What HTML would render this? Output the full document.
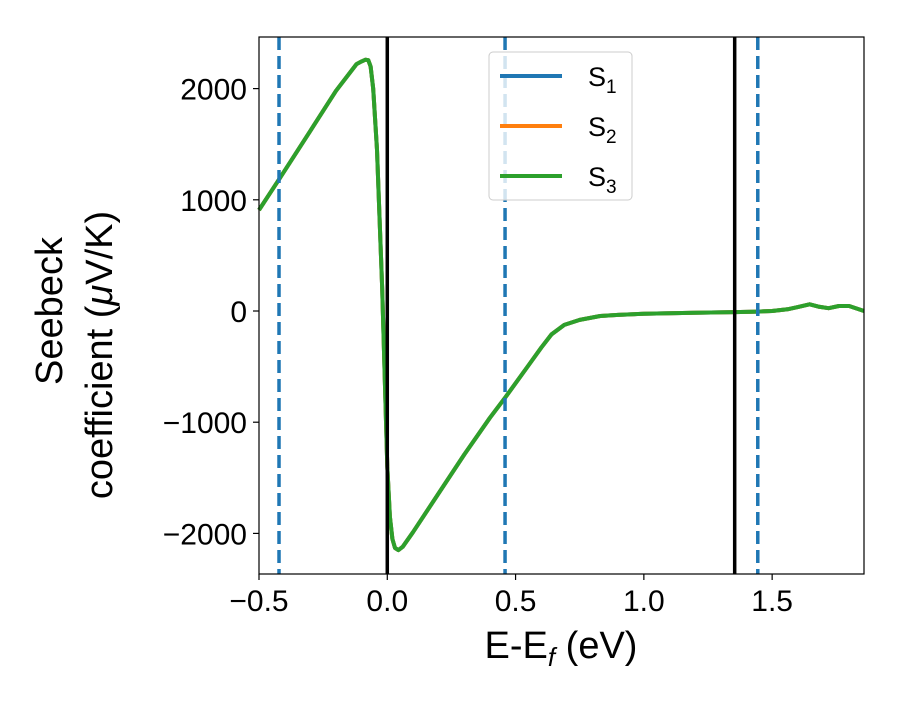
<!DOCTYPE html>
<html><head><meta charset="utf-8"><style>
body{margin:0;background:#fff}
svg{font-family:"Liberation Sans",sans-serif}
</style></head><body>
<svg id="chart" width="900" height="700" xmlns="http://www.w3.org/2000/svg">
<rect width="900" height="700" fill="#fff"/>
<g id="marks"></g>
<rect x="259" y="37" width="605" height="537" fill="none" stroke="#000" stroke-width="1.2"/>
<g id="axes"></g>
<g>
<rect x="489" y="52" width="143" height="148" rx="4" fill="#fff" fill-opacity="0.8" stroke="#ccc"/>
<g><line x1="500" y1="76" x2="562" y2="76" stroke="#1f77b4" stroke-width="4"/><text x="588" y="86" font-size="27">S<tspan font-size="19" dy="7">1</tspan></text></g>
<g><line x1="500" y1="126" x2="562" y2="126" stroke="#ff7f0e" stroke-width="4"/><text x="588" y="136" font-size="27">S<tspan font-size="19" dy="7">2</tspan></text></g>
<g><line x1="500" y1="176" x2="562" y2="176" stroke="#2ca02c" stroke-width="4"/><text x="588" y="186" font-size="27">S<tspan font-size="19" dy="7">3</tspan></text></g>
</g>
<text x="561" y="658" font-size="38" text-anchor="middle">E-E<tspan font-size="26" dy="8" font-style="italic">f</tspan><tspan dy="-8"> (eV)</tspan></text>
<g>
<text transform="translate(62,311) rotate(-90)" font-size="38" text-anchor="middle">Seebeck</text>
<text transform="translate(112,355) rotate(-90)" font-size="38" text-anchor="middle">coefficient  (<tspan font-style="italic">μ</tspan>V/K)</text>
</g>
</svg>
<script>
const energy=[-0.5,-0.42,-0.3,-0.2,-0.12,-0.1,-0.085,-0.074,-0.065,-0.055,-0.04,-0.02,0.0,0.01,0.02,0.03,0.043,0.06,0.1,0.2,0.3,0.4,0.459,0.55,0.6,0.64,0.69,0.75,0.83,0.9,1.0,1.1,1.2,1.354,1.444,1.5,1.56,1.6,1.646,1.68,1.72,1.76,1.8,1.858];
const seebeck=[908,1190,1620,1980,2220,2245,2260,2255,2200,2000,1450,200,-1400,-1850,-2050,-2130,-2150,-2120,-1990,-1640,-1290,-960,-780,-490,-330,-210,-125,-80,-45,-35,-25,-20,-15,-10,-5,0,15,35,60,40,25,45,45,0];
const seriesNames=["S1","S2","S3"];
const seriesColors=["#1f77b4","#ff7f0e","#2ca02c"];
const xTicks=[-0.5,0.0,0.5,1.0,1.5];
const xTickLabels=["\u22120.5","0.0","0.5","1.0","1.5"];
const yTicks=[-2000,-1000,0,1000,2000];
const yTickLabels=["\u22122000","\u22121000","0","1000","2000"];
const dashedLines=[-0.422,0.459,1.444];
const solidLines=[0.0,1.354];
const X0=-0.5,X1=1.858,Y0=-2365,Y1=2464;
const L=259,R=864,T=37,B=574;
const sx=v=>L+(v-X0)/(X1-X0)*(R-L);
const sy=v=>B-(v-Y0)/(Y1-Y0)*(B-T);
const NS="http://www.w3.org/2000/svg";
const marks=document.getElementById('marks'),axes=document.getElementById('axes');
function mk(tag,attrs,parent){const e=document.createElementNS(NS,tag);for(const k in attrs)e.setAttribute(k,attrs[k]);parent.appendChild(e);return e;}
seriesNames.forEach((n,i)=>{
  const d=energy.map((x,j)=>(j?'L':'M')+sx(x).toFixed(1)+','+sy(seebeck[j]).toFixed(1)).join('');
  const p=mk('path',{d:d,fill:'none',stroke:seriesColors[i],'stroke-width':4,'stroke-linejoin':'round'},marks);
  
  
});
dashedLines.forEach(v=>{
  const l=mk('line',{x1:sx(v),x2:sx(v),y1:T,y2:B,stroke:'#1f77b4','stroke-width':3.5,'stroke-dasharray':'13,6'},marks);
  
  
});
solidLines.forEach(v=>{
  const l=mk('line',{x1:sx(v),x2:sx(v),y1:T,y2:B,stroke:'#000','stroke-width':3.5},marks);
  
  
});
xTicks.forEach((v,i)=>{
  const g=mk('g',{},axes);
  
  
  mk('line',{x1:sx(v),x2:sx(v),y1:B,y2:B+6,stroke:'#000','stroke-width':1.2},g);
  const t=mk('text',{x:sx(v),y:B+37,'font-size':30,'text-anchor':'middle'},g);t.textContent=xTickLabels[i];
});
yTicks.forEach((v,i)=>{
  const g=mk('g',{},axes);
  
  
  mk('line',{x1:L-6,x2:L,y1:sy(v),y2:sy(v),stroke:'#000','stroke-width':1.2},g);
  const t=mk('text',{x:L-12,y:sy(v)+11,'font-size':30,'text-anchor':'end'},g);t.textContent=yTickLabels[i];
});
</script>
</body></html>
